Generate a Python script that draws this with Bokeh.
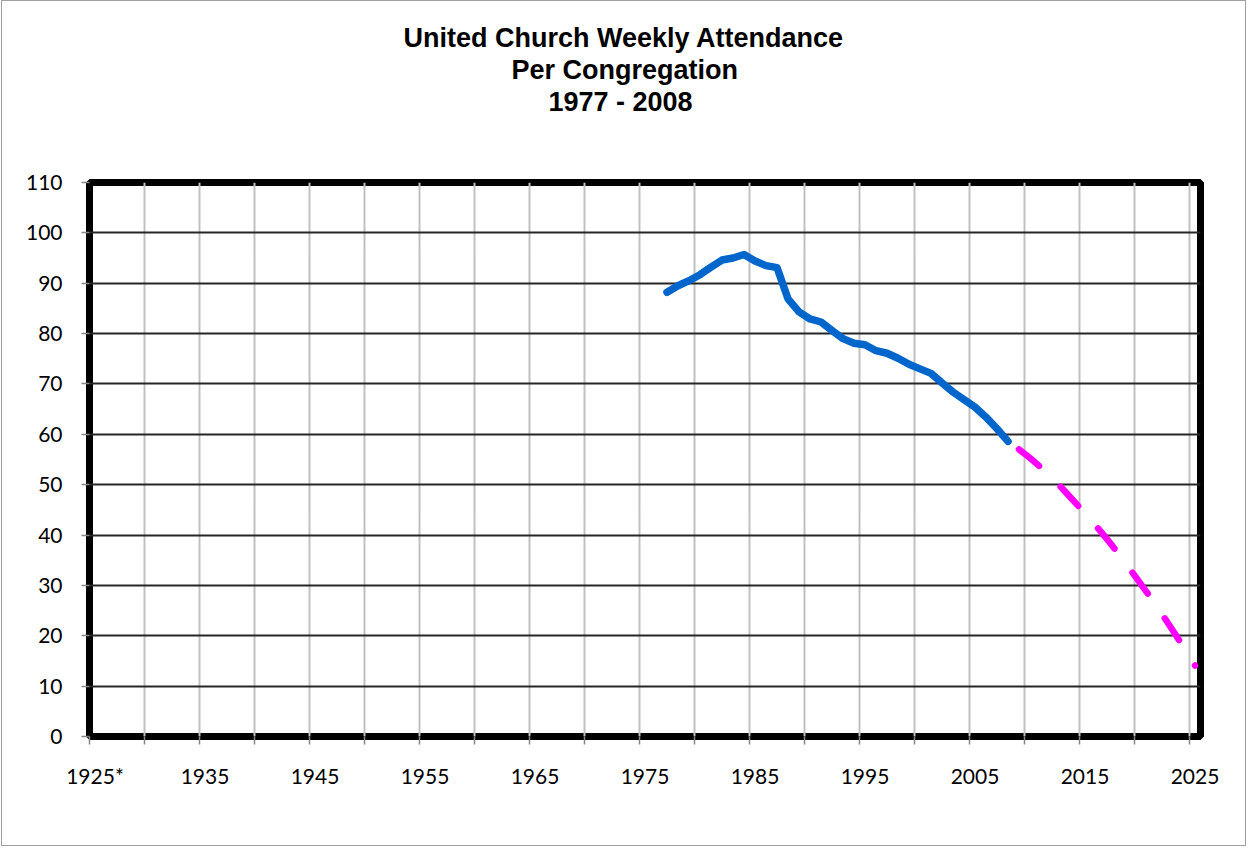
from bokeh.plotting import figure
from bokeh.models import Range1d, FixedTicker, Title
from bokeh.embed import file_html
from bokeh.resources import INLINE

# ---- data ----
years_actual = list(range(1977, 2009))
attendance = [88.2, 89.5, 90.5, 91.7, 93.2, 94.6, 95.0, 95.7, 94.4, 93.5,
              93.1, 86.9, 84.3, 82.9, 82.3, 80.6, 79.0, 78.1, 77.8, 76.6,
              76.1, 75.1, 73.9, 73.0, 72.1, 70.2, 68.4, 66.9, 65.4, 63.4,
              61.1, 58.6]
years_proj = list(range(2009, 2026))
projection = [57.0, 55.3, 53.4, 51.3, 49.1, 46.7, 44.3, 41.8, 39.2, 36.4,
              33.5, 30.5, 27.5, 24.3, 21.0, 17.6, 14.1]
x_label_years = list(range(1925, 2026, 10))
x_tick_labels = ["1925*", "1935", "1945", "1955", "1965", "1975",
                 "1985", "1995", "2005", "2015", "2025"]
y_ticks = list(range(0, 111, 10))
title_lines = ["United Church Weekly Attendance", "Per Congregation", "1977 - 2008"]

# category centres (Excel-style category axis: one slot per year)
xa = [y + 0.5 for y in years_actual]
xp = [y + 0.5 for y in years_proj]
label_pos = [y + 0.5 for y in x_label_years]
boundaries = list(range(1925, 2026, 5))

p = figure(width=1245, height=846, output_backend="svg", toolbar_location=None,
           x_range=Range1d(1925, 2026), y_range=Range1d(0, 110),
           min_border_left=87, min_border_right=47,
           min_border_top=181, min_border_bottom=111,
           background_fill_color="white", border_fill_color="white")
p.title = None

# title: stacked outward from the frame (spacer first, then line 3, 2, 1)
title_offsets = [314, 422, 459]   # left-aligned offsets so lines centre on the chart area
title_style = dict(align="left", text_font="Liberation Sans", text_font_style="bold",
                   text_font_size="27px", text_color="black")
p.add_layout(Title(text=" ", standoff=34, **title_style), "above")
for line, off in zip(reversed(title_lines), reversed(title_offsets)):
    p.add_layout(Title(text=line, standoff=0, offset=off, **title_style), "above")

p.outline_line_color = "black"
p.outline_line_width = 7
p.outline_line_alpha = 1.0

# x axis
p.xaxis.ticker = FixedTicker(ticks=label_pos, minor_ticks=boundaries)
p.xaxis.major_label_overrides = {pos: lab for pos, lab in zip(label_pos, x_tick_labels)}
p.xaxis.major_tick_line_color = None
p.xaxis.major_tick_out = 0
p.xaxis.major_tick_in = 0
p.xaxis.minor_tick_out = 8
p.xaxis.minor_tick_in = 0
p.xaxis.minor_tick_line_color = "#868686"
p.xaxis.minor_tick_line_width = 1.5
p.xaxis.axis_line_color = None
p.xaxis.major_label_standoff = 18
p.xaxis.major_label_text_font = "Lato"
p.xaxis.major_label_text_font_size = "21px"
p.xaxis.major_label_text_color = "black"

# y axis
p.yaxis.ticker = FixedTicker(ticks=y_ticks)
p.yaxis.major_tick_out = 8
p.yaxis.major_tick_in = 0
p.yaxis.major_tick_line_color = "#868686"
p.yaxis.major_tick_line_width = 1.5
p.yaxis.minor_tick_line_color = None
p.yaxis.axis_line_color = None
p.yaxis.major_label_standoff = 19
p.yaxis.major_label_text_font = "Lato"
p.yaxis.major_label_text_font_size = "21px"
p.yaxis.major_label_text_color = "black"

# grids
p.xgrid.ticker = FixedTicker(ticks=boundaries)
p.xgrid.grid_line_color = "#c0c0c0"
p.xgrid.grid_line_width = 2
p.ygrid.ticker = FixedTicker(ticks=y_ticks)
p.ygrid.grid_line_color = "#262626"
p.ygrid.grid_line_width = 1.8

# data lines
p.line(xp, projection, line_color="#ff00ff", line_width=6.5,
       line_dash="26 30", line_cap="round", line_join="round")
p.line(xa, attendance, line_color="#0066cc", line_width=7.5,
       line_cap="round", line_join="round")

p.styles = {"border": "1.5px solid #a0a0a0", "margin-left": "1px"}

open("out.html", "w").write(file_html(p, INLINE))
